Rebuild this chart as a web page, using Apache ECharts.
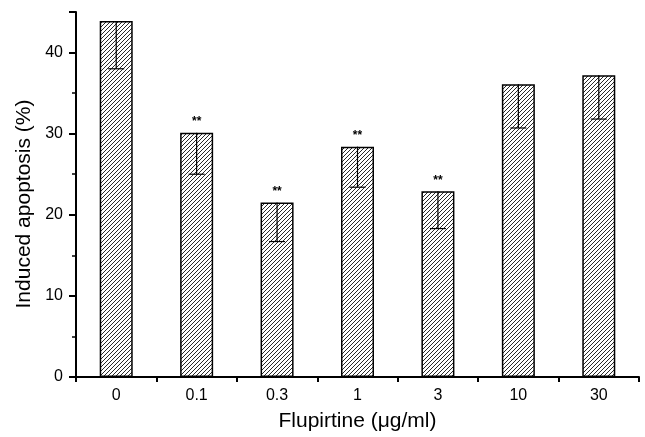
<!DOCTYPE html>
<html>
<head>
<meta charset="utf-8">
<script src="https://cdn.jsdelivr.net/npm/echarts@6/dist/echarts.min.js"></script>
<style>
  html, body { margin: 0; padding: 0; background: #fff; }
  #chart { width: 645px; height: 437px; }
</style>
</head>
<body>
<div id="chart"></div>
<script>
var doses = ['0', '0.1', '0.3', '1', '3', '10', '30'];
var apoptosis = [43.9, 30.1, 21.5, 28.4, 22.9, 36.1, 37.2];
var errorLow = [38.0, 25.0, 16.7, 23.4, 18.3, 30.7, 31.8];
var marks = ['', '**', '**', '**', '**', '', ''];

function hatch() {
  var size = 4;
  var c = document.createElement('canvas');
  c.width = size;
  c.height = size;
  var ctx = c.getContext('2d');
  ctx.fillStyle = '#fff';
  ctx.fillRect(0, 0, size, size);
  ctx.strokeStyle = '#111';
  ctx.lineWidth = 0.9;
  ctx.beginPath();
  ctx.moveTo(-1, size + 1); ctx.lineTo(size + 1, -1);
  ctx.moveTo(-1, 1); ctx.lineTo(1, -1);
  ctx.moveTo(size - 1, size + 1); ctx.lineTo(size + 1, size - 1);
  ctx.stroke();
  return c;
}

var chart = echarts.init(document.getElementById('chart'), null, { renderer: 'canvas' });
var font = 'Liberation Sans, Arial, sans-serif';

chart.setOption({
  animation: false,
  grid: { left: 76, right: 6, top: 12, bottom: 60 },
  xAxis: {
    type: 'category',
    data: doses,
    name: 'Flupirtine (μg/ml)',
    nameLocation: 'middle',
    nameGap: 34,
    nameTextStyle: { color: '#000', fontSize: 21, fontFamily: font },
    axisLine: { lineStyle: { color: '#000', width: 2 } },
    axisTick: { show: true, length: 5, lineStyle: { color: '#000', width: 2 } },
    axisLabel: { color: '#000', fontSize: 16, fontFamily: font, margin: 11 }
  },
  yAxis: {
    type: 'value',
    min: 0,
    max: 45,
    interval: 10,
    name: 'Induced apoptosis (%)',
    nameLocation: 'middle',
    nameGap: 39,
    nameTextStyle: { color: '#000', fontSize: 21, fontFamily: font, padding: [0, 19, 0, 0] },
    axisLine: { show: true, lineStyle: { color: '#000', width: 2 } },
    axisTick: { show: true, length: 7, lineStyle: { color: '#000', width: 2 } },
    minorTick: { show: true, splitNumber: 2, length: 4, lineStyle: { color: '#000', width: 1.5 } },
    splitLine: { show: false },
    axisLabel: {
      color: '#000', fontSize: 16, fontFamily: font, margin: 13,
      formatter: function (v) { return v % 10 === 0 ? String(v) : ''; }
    }
  },
  series: [
    {
      type: 'bar',
      data: apoptosis,
      barWidth: 33,
      itemStyle: {
        color: { image: hatch(), repeat: 'repeat' },
        borderColor: '#000',
        borderWidth: 1.5
      },
      label: {
        show: true,
        position: 'top',
        distance: 5,
        color: '#000',
        fontSize: 12,
        fontWeight: 'bold',
        fontFamily: font,
        formatter: function (p) { return marks[p.dataIndex]; }
      },
      z: 2
    },
    {
      type: 'custom',
      data: apoptosis.map(function (v, i) { return [i, v, errorLow[i]]; }),
      z: 3,
      renderItem: function (params, api) {
        var top = api.coord([api.value(0), api.value(1)]);
        var low = api.coord([api.value(0), api.value(2)]);
        var half = 8;
        var style = { stroke: '#000', lineWidth: 1.2 };
        return {
          type: 'group',
          children: [
            { type: 'line', shape: { x1: top[0], y1: top[1], x2: low[0], y2: low[1] }, style: style },
            { type: 'line', shape: { x1: low[0] - half, y1: low[1], x2: low[0] + half, y2: low[1] }, style: style }
          ]
        };
      }
    }
  ]
});
</script>
</body>
</html>
